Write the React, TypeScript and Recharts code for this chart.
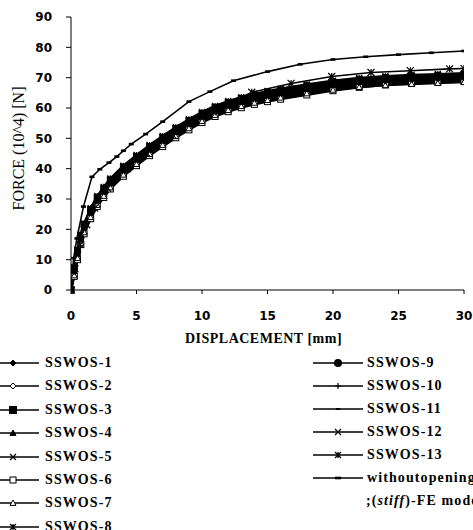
import React from 'react';
import { LineChart, Line, XAxis, YAxis } from 'recharts';

// displacement [mm] sampled for the SSWOS-1..12 test curves
const BUNDLE_X = [0, 0.25, 0.5, 0.75, 1, 1.5, 2, 2.5, 3, 4, 5, 6, 7, 8, 9, 10, 11, 12, 13, 14, 15, 16, 18, 20, 22, 24, 26, 28, 30];

// force (10^4 N)
const SSWOS_1 = [0, 6.5, 12.6, 17.5, 21, 26, 30, 33, 35.8, 40, 43.5, 46.8, 49.8, 52.7, 55.3, 57.7, 59.7, 61.3, 62.6, 63.7, 64.6, 65.4, 66.8, 68, 68.9, 69.5, 69.9, 70.2, 70.5];
const SSWOS_2 = [0, 5.5, 11.4, 16.5, 20, 25, 29, 32, 34.8, 39, 42.5, 45.8, 48.8, 51.7, 54.3, 56.7, 58.7, 60.3, 61.6, 62.7, 63.6, 64.4, 65.8, 67, 67.9, 68.5, 68.9, 69.2, 69.5];
const SSWOS_3 = [0, 7, 13, 18, 21.5, 26.5, 30.5, 33.5, 36.3, 40.5, 44, 47.3, 50.3, 53.2, 55.8, 58.2, 60.2, 61.8, 63.1, 64.2, 65.1, 65.9, 67.3, 68.5, 69.4, 70, 70.4, 70.7, 71];
const SSWOS_4 = [0, 5, 11, 16, 19.5, 24.5, 28.5, 31.5, 34.3, 38.5, 42, 45.3, 48.3, 51.2, 53.8, 56.2, 58.2, 59.8, 61.1, 62.2, 63.1, 63.9, 65.3, 66.5, 67.4, 68, 68.4, 68.7, 69];
const SSWOS_5 = [0, 6.2, 12.2, 17.2, 20.7, 25.7, 29.7, 32.7, 35.5, 39.7, 43.2, 46.5, 49.5, 52.4, 55, 57.4, 59.4, 61, 62.3, 63.4, 64.3, 65.1, 66.5, 67.7, 68.6, 69.2, 69.6, 69.9, 70.2];
const SSWOS_6 = [0, 4.5, 10, 15, 18.5, 23.5, 27.5, 30.5, 33.3, 37.5, 41, 44.3, 47.3, 50.2, 52.8, 55.2, 57.2, 58.8, 60.1, 61.2, 62.1, 62.9, 64.3, 65.7, 66.8, 67.6, 68.1, 68.5, 68.8];
const SSWOS_7 = [0, 4.8, 10.5, 15.5, 19, 24, 28, 31, 33.8, 38, 41.5, 44.8, 47.8, 50.7, 53.3, 55.7, 57.7, 59.3, 60.6, 61.7, 62.6, 63.4, 64.8, 66, 66.9, 67.5, 67.9, 68.2, 68.5];
const SSWOS_8 = [0, 7.5, 13.5, 18.5, 22, 27, 31, 34, 36.8, 41, 44.5, 47.8, 50.8, 53.7, 56.3, 58.7, 60.7, 62.3, 63.6, 64.7, 65.6, 66.4, 67.8, 69, 69.9, 70.5, 70.9, 71.2, 71.5];
const SSWOS_9 = [0, 6, 12, 17, 20.5, 25.5, 29.5, 32.5, 35.3, 39.5, 43, 46.3, 49.3, 52.2, 54.8, 57.2, 59.2, 60.8, 62.1, 63.2, 64.1, 64.9, 66.3, 67.5, 68.4, 69, 69.4, 69.7, 70];
const SSWOS_10 = [0, 6.8, 12.8, 17.8, 21.3, 26.3, 30.3, 33.3, 36.1, 40.3, 43.8, 47.1, 50.1, 53, 55.6, 58, 60, 61.6, 62.9, 64, 64.9, 65.7, 67.1, 68.3, 69.2, 69.8, 70.2, 70.5, 70.8];
const SSWOS_11 = [0, 5.7, 11.7, 16.7, 20.2, 25.2, 29.2, 32.2, 35, 39.2, 42.7, 46, 49, 51.9, 54.5, 56.9, 58.9, 60.5, 61.8, 62.9, 63.8, 64.6, 66, 67.2, 68.1, 68.7, 69.1, 69.4, 69.7];
const SSWOS_12 = [0, 7.2, 13.2, 18.2, 21.7, 26.7, 30.7, 33.7, 36.5, 40.7, 44.2, 47.5, 50.5, 53.4, 56, 58.4, 60.4, 62, 63.3, 64.4, 65.3, 66.1, 67.5, 68.7, 69.6, 70.2, 70.6, 70.9, 71.2];

const SSWOS_13_X = [0, 0.3, 0.7, 1.2, 1.8, 2.8, 4.3, 5.8, 7.8, 10.8, 13.8, 16.8, 19.9, 22.9, 25.9, 28.9, 30];
const SSWOS_13 = [0, 7, 15, 21.5, 27, 33.5, 40, 45, 51, 58.8, 65.2, 68.1, 70.4, 71.7, 72.3, 72.9, 73];

const STIFF_FE_X = [0, 0.2, 0.45, 0.95, 1.6, 2.2, 2.9, 3.5, 4, 4.6, 5.7, 7, 9, 10.6, 12.4, 15, 17.5, 20, 22.5, 25, 27.5, 30];
const STIFF_FE = [0, 10.5, 17, 27.5, 37.3, 39.8, 42, 44, 45.9, 48.1, 51.4, 55.5, 62.1, 65.4, 69, 72, 74.4, 76, 76.9, 77.6, 78.2, 78.8];

const X_TICKS = [0, 5, 10, 15, 20, 25, 30];
const Y_TICKS = [0, 10, 20, 30, 40, 50, 60, 70, 80, 90];

const LEFT_LEGEND = ['SSWOS-1', 'SSWOS-2', 'SSWOS-3', 'SSWOS-4', 'SSWOS-5', 'SSWOS-6', 'SSWOS-7', 'SSWOS-8'];
const RIGHT_LEGEND = ['SSWOS-9', 'SSWOS-10', 'SSWOS-11', 'SSWOS-12', 'SSWOS-13', 'withoutopening'];

type Shape =
    | 'diamond' | 'diamondOpen' | 'square' | 'triangle' | 'cross' | 'squareOpen' | 'triangleOpen'
    | 'star' | 'circle' | 'plus' | 'dash' | 'bar';

const pairs = (xs: number[], ys: number[]) => xs.map((x, i) => ({ x, y: ys[i] }));

const SERIES: { name: string; data: { x: number; y: number }[]; shape: Shape }[] = [
    { name: 'SSWOS-1', data: pairs(BUNDLE_X, SSWOS_1), shape: 'diamond' },
    { name: 'SSWOS-2', data: pairs(BUNDLE_X, SSWOS_2), shape: 'diamondOpen' },
    { name: 'SSWOS-3', data: pairs(BUNDLE_X, SSWOS_3), shape: 'square' },
    { name: 'SSWOS-4', data: pairs(BUNDLE_X, SSWOS_4), shape: 'triangle' },
    { name: 'SSWOS-5', data: pairs(BUNDLE_X, SSWOS_5), shape: 'cross' },
    { name: 'SSWOS-6', data: pairs(BUNDLE_X, SSWOS_6), shape: 'squareOpen' },
    { name: 'SSWOS-7', data: pairs(BUNDLE_X, SSWOS_7), shape: 'triangleOpen' },
    { name: 'SSWOS-8', data: pairs(BUNDLE_X, SSWOS_8), shape: 'star' },
    { name: 'SSWOS-9', data: pairs(BUNDLE_X, SSWOS_9), shape: 'circle' },
    { name: 'SSWOS-10', data: pairs(BUNDLE_X, SSWOS_10), shape: 'plus' },
    { name: 'SSWOS-11', data: pairs(BUNDLE_X, SSWOS_11), shape: 'dash' },
    { name: 'SSWOS-12', data: pairs(BUNDLE_X, SSWOS_12), shape: 'cross' },
    { name: 'SSWOS-13', data: pairs(SSWOS_13_X, SSWOS_13), shape: 'star' },
    { name: 'withoutopening', data: pairs(STIFF_FE_X, STIFF_FE), shape: 'bar' },
];

const Marker = ({ shape, cx, cy, s }: { shape: Shape; cx: number; cy: number; s: number }) => {
    const h = s / 2;
    const k = '#000';
    switch (shape) {
        case 'diamond':
        case 'diamondOpen':
            return <polygon points={`${cx},${cy - h} ${cx + h},${cy} ${cx},${cy + h} ${cx - h},${cy}`} fill={shape === 'diamond' ? k : '#fff'} stroke={k} strokeWidth={1} />;
        case 'square':
        case 'squareOpen':
            return <rect x={cx - h} y={cy - h} width={s} height={s} fill={shape === 'square' ? k : '#fff'} stroke={k} strokeWidth={1} />;
        case 'triangle':
        case 'triangleOpen':
            return <polygon points={`${cx},${cy - h} ${cx + h},${cy + h * 0.8} ${cx - h},${cy + h * 0.8}`} fill={shape === 'triangle' ? k : '#fff'} stroke={k} strokeWidth={1} />;
        case 'cross':
            return <path d={`M${cx - h},${cy - h}L${cx + h},${cy + h}M${cx - h},${cy + h}L${cx + h},${cy - h}`} stroke={k} strokeWidth={1.2} />;
        case 'star':
            return <path d={`M${cx - h},${cy - h}L${cx + h},${cy + h}M${cx - h},${cy + h}L${cx + h},${cy - h}M${cx},${cy - h}L${cx},${cy + h}`} stroke={k} strokeWidth={1.2} />;
        case 'circle':
            return <circle cx={cx} cy={cy} r={h} fill={k} />;
        case 'plus':
            return <path d={`M${cx},${cy - h}L${cx},${cy + h}M${cx - h},${cy}L${cx + h},${cy}`} stroke={k} strokeWidth={1.2} />;
        case 'dash':
            return <rect x={cx - h * 0.7} y={cy - 1} width={s * 0.7} height={2} fill={k} />;
        case 'bar':
            return <rect x={cx - h} y={cy - 1.3} width={s} height={2.6} fill={k} />;
    }
    return null;
};

const tickFont = { fontFamily: 'DejaVu Sans', fontWeight: 700, fontSize: 12, fill: '#000' };
const legendFont: React.CSSProperties = {
    fontFamily: '"Liberation Serif", serif',
    fontWeight: 700,
    fontSize: 14,
    letterSpacing: 1.1,
    whiteSpace: 'nowrap',
    position: 'absolute',
    lineHeight: '16px',
};

const legendSize = (name: string) => (name === 'SSWOS-9' ? 8 : name === 'SSWOS-3' ? 7 : 6);
const plotSize = (name: string) => (name === 'SSWOS-13' ? 7 : name === 'withoutopening' ? 5 : 6);

const LegendRow = ({ name, lineX1, lineX2, markX, textX, y }: { name: string; lineX1: number; lineX2: number; markX: number; textX: number; y: number }) => {
    const s = SERIES.find(d => d.name === name)!;
    return (
        <>
            <svg style={{ position: 'absolute', left: 0, top: y - 8, overflow: 'visible' }} width={473} height={16}>
                <line x1={lineX1} x2={lineX2} y1={8} y2={8} stroke="#000" strokeWidth={1.3} />
                <Marker shape={s.shape} cx={markX} cy={8} s={legendSize(name)} />
            </svg>
            <div style={{ ...legendFont, left: textX, top: y - 8 }}>{name}</div>
        </>
    );
};

export default function App() {
    return (
        <div style={{ position: 'absolute', left: 0, top: 0, width: 473, height: 530, overflow: 'hidden', background: '#fff' }}>
            <LineChart width={473} height={350} margin={{ top: 17, right: 9, left: 0, bottom: 5 }}>
                <XAxis
                    type="number"
                    dataKey="x"
                    domain={[0, 30]}
                    ticks={X_TICKS}
                    allowDataOverflow
                    height={55}
                    tickSize={4}
                    tickMargin={17}
                    tick={tickFont}
                    stroke="#000"
                    label={{
                        value: 'DISPLACEMENT [mm]',
                        position: 'insideBottom',
                        offset: 2,
                        dx: -4,
                        style: { fontFamily: '"Liberation Serif", serif', fontWeight: 700, fontSize: 14, letterSpacing: 0.5, fill: '#000' },
                    }}
                />
                <YAxis
                    type="number"
                    dataKey="y"
                    domain={[0, 90]}
                    ticks={Y_TICKS}
                    width={71}
                    tickSize={5}
                    tickMargin={14}
                    tick={tickFont}
                    stroke="#000"
                    label={(props: any) => {
                        const vb = props.viewBox || { x: 0, y: 17, height: 273 };
                        const cx = vb.x + 18.5;
                        const cy = vb.y + vb.height / 2 - 5;
                        return (
                            <text
                                x={cx}
                                y={cy}
                                transform={`rotate(-90 ${cx} ${cy})`}
                                textAnchor="middle"
                                dominantBaseline="central"
                                style={{ fontFamily: '"Liberation Serif", serif', fontSize: 16, fill: '#000' }}
                            >
                                FORCE (10^4) [N]
                            </text>
                        );
                    }}
                />
                {SERIES.map(s => (
                    <Line
                        key={s.name}
                        data={s.data}
                        dataKey="y"
                        name={s.name}
                        type="linear"
                        stroke="#000"
                        strokeWidth={s.name === 'withoutopening' || s.name === 'SSWOS-13' ? 1.6 : 2.2}
                        isAnimationActive={false}
                        dot={(p: any) => (
                            <g key={`${s.name}-${p.index}`}>
                                {p.cx != null && <Marker shape={s.shape} cx={p.cx} cy={p.cy} s={plotSize(s.name)} />}
                            </g>
                        )}
                        activeDot={false}
                    />
                ))}
            </LineChart>

            {LEFT_LEGEND.map((name, i) => (
                <LegendRow key={name} name={name} lineX1={0} lineX2={39} markX={13} textX={45} y={363 + i * 23.4} />
            ))}
            {RIGHT_LEGEND.map((name, i) => (
                <LegendRow key={name} name={name} lineX1={313} lineX2={363} markX={338} textX={367} y={363 + i * 23.0} />
            ))}
            <div style={{ ...legendFont, left: 366, top: 363 + 6 * 23.0 - 8 }}>
                ;(<i>stiff</i>)-FE model
            </div>
        </div>
    );
}
